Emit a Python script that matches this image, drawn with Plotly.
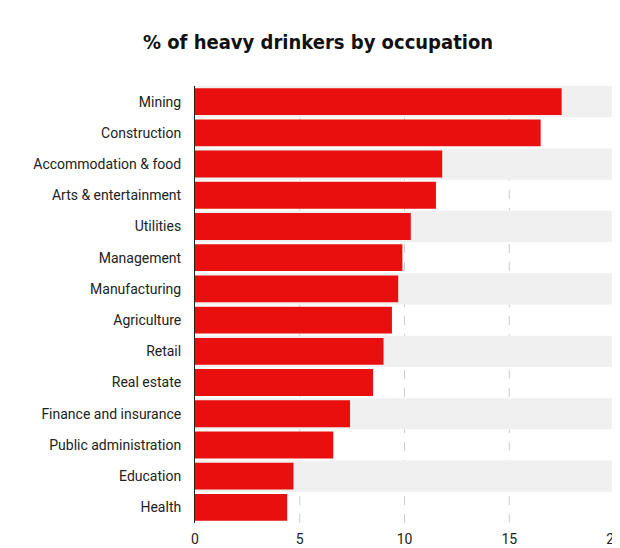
import plotly.graph_objects as go

categories = ["Mining","Construction","Accommodation & food","Arts & entertainment","Utilities",
              "Management","Manufacturing","Agriculture","Retail","Real estate",
              "Finance and insurance","Public administration","Education","Health"]
values = [17.5,16.5,11.8,11.5,10.3,9.9,9.7,9.4,9.0,8.5,7.4,6.6,4.7,4.4]
x_ticks = [0,5,10,15,20]

n = len(categories)
fig = go.Figure()
shapes = []
for i, c in enumerate(categories):
    if i % 2 == 0:
        shapes.append(dict(type="rect", xref="x", yref="y", x0=0, x1=20,
                           y0=i-0.5, y1=i+0.5, fillcolor="#f0f0f0", line_width=0, layer="below"))
for t in x_ticks[1:]:
    shapes.append(dict(type="line", xref="x", yref="paper", x0=t, x1=t, y0=0, y1=1,
                       line=dict(color="#cccccc", width=1, dash="dash"), layer="below"))

fig.add_trace(go.Bar(x=values, y=list(range(n)), orientation="h",
                     marker=dict(color="#ea0f0f", line_width=0), width=0.86,
                     hoverinfo="skip"))
fig.update_layout(
    width=620, height=548, margin=dict(l=187, r=14, t=78, b=33),
    plot_bgcolor="white", paper_bgcolor="white", shapes=shapes, showlegend=False,
    title=dict(text="<b>% of heavy drinkers by occupation</b>", x=0.5, xanchor="center", y=0.95,
               font=dict(family="DejaVu Sans Condensed", size=20, color="#111")),
    font=dict(family="Roboto", size=14, color="#222"),
)
fig.update_xaxes(range=[0,20], tickvals=x_ticks, showgrid=False, zeroline=False,
                 ticks="", showline=False, automargin=False, ticklabelstandoff=6)
fig.update_yaxes(range=[n-0.5,-0.5], tickvals=list(range(n)), ticktext=categories,
                 showgrid=False, zeroline=False, showline=True, linecolor="#222",
                 ticks="", ticklabelstandoff=10, automargin=False)
fig.write_html("out.html")
